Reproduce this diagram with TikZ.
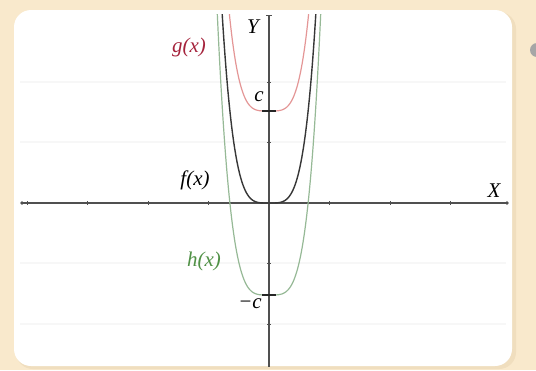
\documentclass[tikz,border=0pt]{standalone}
\usepackage{fontspec}
\setmainfont{Liberation Serif}
\usepackage{tikz}
\usetikzlibrary{calc}
\definecolor{beige}{RGB}{249,233,204}
\definecolor{shadowc}{RGB}{240,222,190}
\definecolor{axisc}{RGB}{80,80,80}
\definecolor{gcurve}{RGB}{228,150,150}
\definecolor{glabel}{RGB}{165,35,60}
\definecolor{hcurve}{RGB}{150,185,150}
\definecolor{hlabel}{RGB}{80,145,70}
\definecolor{fcurve}{RGB}{55,55,55}
\tikzset{
  axisline/.style={draw=axisc, line width=1.5pt},
  tickmark/.style={draw=axisc, line width=1pt},
  ctick/.style={draw=black!85, line width=1.6pt},
  gridline/.style={draw=black!3, line width=1.2pt},
  lbl/.style={inner sep=0pt, font=\fontsize{21}{24}\selectfont\itshape},
}
\begin{document}
\begin{tikzpicture}[x=1bp,y=-1bp]
\useasboundingbox (0,0) rectangle (536,370);
\fill[beige] (0,0) rectangle (536,370);
% shadow and panel
\fill[shadowc, rounded corners=17bp] (16,12) rectangle (516,369);
\fill[white, rounded corners=17bp] (14,10) rectangle (512,366);
% partial grey mark at right edge
\fill[black!35] (537,50) circle (7);
% faint grid
\foreach \yy in {82,142,263,324} \draw[gridline] (20,\yy) -- (506,\yy);
% axes
\coordinate (xl) at (22,203);
\coordinate (xr) at (507,203);
\coordinate (yt) at (269,15);
\coordinate (yb) at (269,367);
\coordinate (O) at (269,203);
\draw[axisline] (xl) -- (xr);
\draw[axisline] (yt) -- (yb);
\fill[axisc] (xl) circle (1.8);
\fill[axisc] (xr) circle (1.8);
\draw[tickmark] ($(yt)+(-3,0)$) -- ($(yt)+(3,0)$);
\foreach \k in {-4,-3,-2,-1,1,2,3} \draw[tickmark] ({269+60.5*\k},201) -- ({269+60.5*\k},205);
\foreach \k in {-2,-1,1,2} \draw[tickmark] (267,{203+60.5*\k}) -- (271,{203+60.5*\k});
% curves
\begin{scope}
\clip (14,14) rectangle (512,366);
\draw[hcurve, line width=1.2pt, smooth, samples=120, domain=-0.86:0.86]
  plot ({269+60.5*\x},{295-527*(\x)^4});
\draw[fcurve, line width=1.4pt, smooth, samples=120, domain=-0.78:0.78]
  plot ({269+60.5*\x},{203-527*(\x)^4});
\draw[gcurve, line width=1.2pt, smooth, samples=120, domain=-0.66:0.66]
  plot ({269+60.5*\x},{111-527*(\x)^4});
\end{scope}
% c ticks
\coordinate (cp) at (269,111);
\coordinate (cm) at (269,295);
\draw[ctick] ($(cp)+(-7,0)$) -- ($(cp)+(7,0)$);
\draw[ctick] ($(cm)+(-7,0)$) -- ($(cm)+(7,0)$);
% labels
\node[lbl] (Ylab) at (253,27) {Y};
\node[lbl] (Xlab) at (494,191) {X};
\node[lbl] (clab) at (259,97) {c};
\node[lbl] (mclab) at (250,304) {−c};
\node[lbl, text=glabel] (glab) at (189,47) {g(x)};
\node[lbl] (flab) at (195,180) {f(x)};
\node[lbl, text=hlabel] (hlab) at (204,261) {h(x)};
\end{tikzpicture}
\end{document}
